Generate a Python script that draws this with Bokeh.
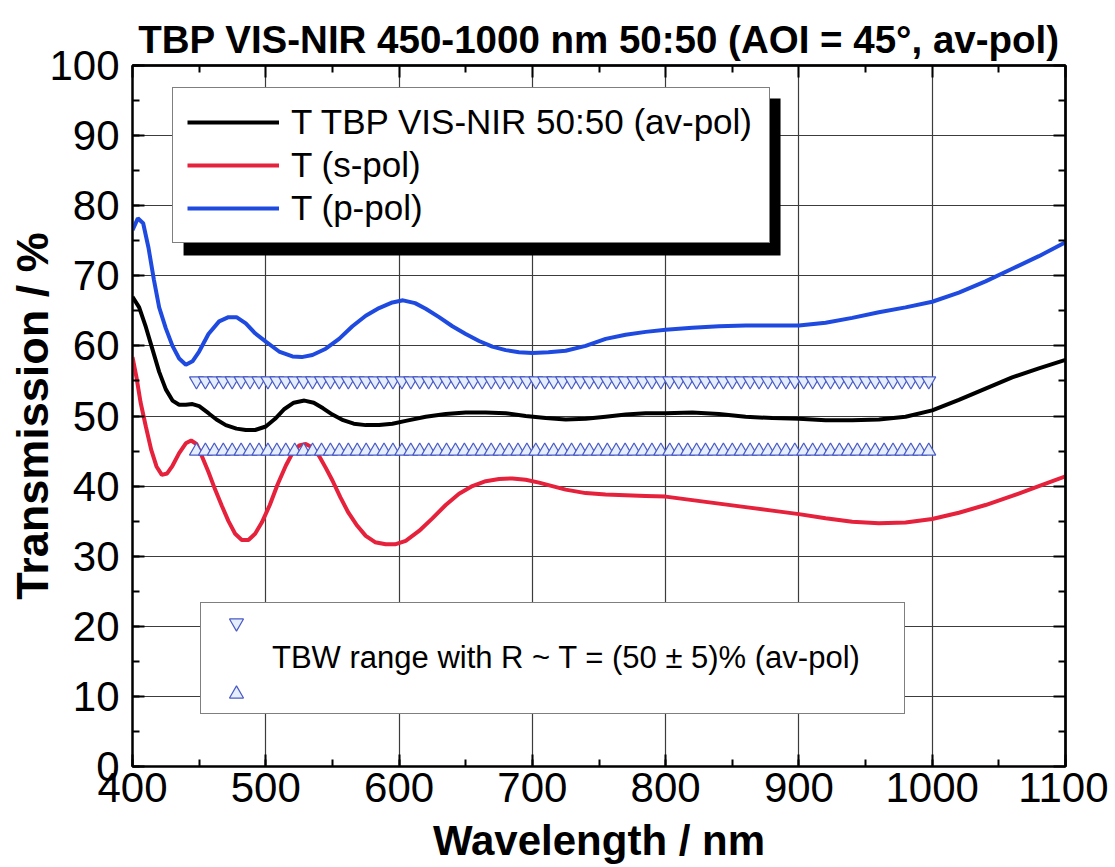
from bokeh.plotting import figure
from bokeh.models import (Range1d, LinearAxis, Legend, LegendItem, BoxAnnotation,
                          SingleIntervalTicker, FixedTicker)
from bokeh.embed import file_html
from bokeh.resources import INLINE
import numpy as np

# ---------------- data ----------------
wl_av = [400, 405, 410, 415, 420, 425, 430, 435, 440, 445, 450, 457, 463, 470, 478, 485, 492,
         500, 507, 514, 521, 529, 536, 543, 550, 558, 566, 575, 585, 595, 605, 620, 635, 650,
         665, 680, 695, 710, 725, 740, 755, 770, 785, 800, 820, 840, 860, 880, 900, 920, 940,
         960, 980, 1000, 1020, 1040, 1060, 1080, 1100]
t_av = [67.0, 65.5, 62.7, 59.5, 56.3, 53.8, 52.2, 51.6, 51.6, 51.7, 51.4, 50.4, 49.5, 48.7,
        48.2, 48.0, 48.0, 48.5, 49.6, 51.0, 51.9, 52.2, 51.9, 51.1, 50.2, 49.4, 48.9, 48.7,
        48.7, 48.9, 49.3, 49.9, 50.3, 50.5, 50.5, 50.4, 50.0, 49.7, 49.5, 49.6, 49.9, 50.2,
        50.4, 50.4, 50.5, 50.3, 49.9, 49.7, 49.6, 49.4, 49.4, 49.5, 49.9, 50.8, 52.3, 53.9,
        55.5, 56.8, 58.0]

wl_s = [400, 403, 406, 410, 414, 418, 422, 426, 430, 435, 440, 444, 448, 452, 457, 462, 467,
        472, 477, 482, 487, 492, 497, 503, 509, 515, 520, 525, 530, 535, 540, 545, 550, 556,
        562, 568, 575, 582, 590, 597, 605, 615, 625, 635, 645, 655, 665, 675, 685, 695, 705,
        715, 725, 740, 755, 770, 785, 800, 820, 840, 860, 880, 900, 920, 940, 960, 980, 1000,
        1020, 1040, 1060, 1080, 1100]
t_s = [58.4, 55.5, 52.0, 48.5, 45.2, 42.8, 41.6, 41.8, 42.9, 44.7, 46.1, 46.5, 46.0, 44.3,
       42.0, 39.5, 37.2, 35.0, 33.2, 32.3, 32.3, 33.2, 34.8, 37.3, 40.3, 42.9, 44.7, 45.8,
       46.0, 45.5, 44.3, 42.6, 40.8, 38.4, 36.2, 34.5, 32.9, 32.0, 31.7, 31.7, 32.2, 33.6,
       35.4, 37.3, 38.9, 40.0, 40.7, 41.0, 41.1, 40.9, 40.5, 40.0, 39.5, 39.0, 38.8, 38.7,
       38.6, 38.5, 38.0, 37.5, 37.0, 36.5, 36.0, 35.4, 34.9, 34.7, 34.8, 35.3, 36.2, 37.3,
       38.6, 40.0, 41.4]

wl_p = [400, 404, 408, 412, 416, 420, 425, 430, 435, 440, 445, 450, 457, 465, 472, 478, 485,
        492, 500, 510, 520, 527, 535, 545, 555, 565, 575, 585, 595, 603, 612, 620, 630, 640,
        650, 660, 670, 680, 690, 700, 712, 725, 740, 755, 770, 785, 800, 820, 840, 860, 880,
        900, 920, 940, 960, 980, 1000, 1020, 1040, 1060, 1080, 1100]
t_p = [76.5, 78.2, 77.5, 74.0, 69.5, 65.5, 62.5, 60.0, 58.2, 57.3, 57.8, 59.2, 61.7, 63.5,
       64.1, 64.1, 63.2, 61.8, 60.6, 59.2, 58.5, 58.4, 58.7, 59.6, 61.0, 62.8, 64.3, 65.4,
       66.2, 66.5, 66.1, 65.3, 64.1, 62.8, 61.7, 60.7, 59.9, 59.4, 59.1, 59.0, 59.1, 59.3,
       60.0, 61.0, 61.6, 62.0, 62.3, 62.6, 62.8, 62.9, 62.9, 62.9, 63.3, 64.0, 64.8, 65.5,
       66.3, 67.6, 69.2, 71.0, 72.8, 74.8]

# TBW range (R ~ T = 50 +/- 5 %) : band limits and marker spacing
tbw_start, tbw_end, tbw_step = 448, 1004, 6.7
tbw_low, tbw_high = 45, 55
tbw_wl = np.arange(tbw_start, tbw_end + 0.01, tbw_step)

# tick positions (used for the mirrored, label-free top/right tick marks)
x_major = [400, 500, 600, 700, 800, 900, 1000, 1100]
x_minor = [450, 550, 650, 750, 850, 950, 1050]
y_major = [0, 10, 20, 30, 40, 50, 60, 70, 80, 90, 100]
y_minor = [5, 15, 25, 35, 45, 55, 65, 75, 85, 95]

TITLE = "TBP VIS-NIR 450-1000 nm 50:50 (AOI = 45°, av-pol)"
FONT = "Liberation Sans"
BLACK = "#000000"
RED = "#e5213b"
BLUE = "#1f4ae0"
MK_LINE = "#4a5ac4"
MK_FILL = "#e4eeff"

# ---------------- figure ----------------
p = figure(width=1108, height=867, x_range=Range1d(400, 1100), y_range=Range1d(0, 100),
           output_backend="svg", toolbar_location=None,
           min_border_left=132, min_border_right=43, min_border_top=65, min_border_bottom=101)

p.title.text = TITLE
p.title.text_font = FONT
p.title.text_font_style = "bold"
p.title.text_font_size = "38.5px"
p.title.text_color = "black"
p.title.align = "center"
p.title.standoff = 10

p.outline_line_color = "black"
p.outline_line_width = 2
p.background_fill_color = "white"
p.border_fill_color = "white"

xt = SingleIntervalTicker(interval=100, num_minor_ticks=2)
yt = SingleIntervalTicker(interval=10, num_minor_ticks=2)
p.xaxis.ticker = xt
p.yaxis.ticker = yt
p.xgrid.ticker = xt
p.ygrid.ticker = yt
p.grid.grid_line_color = "#3c3c3c"
p.grid.grid_line_width = 1.2

def style_axis(ax):
    ax.axis_line_color = "black"
    ax.axis_line_width = 2
    ax.major_tick_in = 12
    ax.major_tick_out = 0
    ax.minor_tick_in = 7
    ax.minor_tick_out = 0
    ax.major_tick_line_width = 2
    ax.minor_tick_line_width = 2
    ax.major_tick_line_color = "black"
    ax.minor_tick_line_color = "black"
    ax.major_label_text_font = FONT
    ax.major_label_text_font_size = "42px"
    ax.major_label_text_color = "black"
    ax.axis_label_text_font = FONT
    ax.axis_label_text_font_style = "bold"
    ax.axis_label_text_color = "black"

for ax in p.xaxis:
    style_axis(ax)
    ax.axis_label = "Wavelength / nm"
    ax.axis_label_text_font_size = "42px"
    ax.major_label_standoff = 6
    ax.axis_label_standoff = 12
for ax in p.yaxis:
    style_axis(ax)
    ax.axis_label = "Transmission / %"
    ax.axis_label_text_font_size = "45px"
    ax.major_label_standoff = 13
    ax.axis_label_standoff = -12

def mirror_axis(positions, tick_len):
    # label-free axis: all positions given as "minor" ticks so no tick labels exist
    ax = LinearAxis(ticker=FixedTicker(ticks=[], minor_ticks=positions))
    ax.axis_line_color = "black"
    ax.axis_line_width = 2
    ax.minor_tick_in = tick_len
    ax.minor_tick_out = 0
    ax.minor_tick_line_width = 2
    ax.minor_tick_line_color = "black"
    ax.major_tick_in = 0
    ax.major_tick_out = 0
    ax.major_tick_line_color = None
    return ax

p.add_layout(mirror_axis(x_major, 12), "above")
p.add_layout(mirror_axis(x_minor, 7), "above")
p.add_layout(mirror_axis(y_major, 12), "right")
p.add_layout(mirror_axis(y_minor, 7), "right")

# ---------------- data glyphs ----------------
r_av = p.line(wl_av, t_av, line_color=BLACK, line_width=4)
r_s = p.line(wl_s, t_s, line_color=RED, line_width=4)
r_p = p.line(wl_p, t_p, line_color=BLUE, line_width=4)

r_dn = p.scatter(tbw_wl, [tbw_high] * len(tbw_wl), marker="inverted_triangle", size=14,
                 line_color=MK_LINE, fill_color=MK_FILL, line_width=1.2)
r_up = p.scatter(tbw_wl, [tbw_low] * len(tbw_wl), marker="triangle", size=14,
                 line_color=MK_LINE, fill_color=MK_FILL, line_width=1.2)
# invisible renderer used only to carry the text row of the second legend
r_txt = p.scatter(x=[], y=[], marker="square", size=1, line_alpha=0, fill_alpha=0)

# ---------------- legend 1 with drop shadow ----------------
shadow = BoxAnnotation(left=438.3, right=886.2, top=95.3, bottom=72.9,
                       fill_color="black", fill_alpha=1, line_color=None)
p.add_layout(shadow)

leg1 = Legend(items=[LegendItem(label="T TBP VIS-NIR 50:50 (av-pol)", renderers=[r_av]),
                     LegendItem(label="T (s-pol)", renderers=[r_s]),
                     LegendItem(label="T (p-pol)", renderers=[r_p])],
              location=(40, 523), margin=0, padding=14, spacing=3,
              glyph_width=92, glyph_height=30, label_height=30, label_standoff=12,
              label_width=464,
              label_text_font=FONT, label_text_font_size="35px", label_text_color="black",
              border_line_color="black", border_line_width=1.5,
              background_fill_color="white", background_fill_alpha=1)
p.add_layout(leg1, "center")

# ---------------- legend 2 ----------------
leg2 = Legend(items=[LegendItem(label=" ", renderers=[r_dn]),
                     LegendItem(label="TBW range with R ~ T = (50 ± 5)% (av-pol)",
                                renderers=[r_txt]),
                     LegendItem(label=" ", renderers=[r_up])],
              location=(68, 52), margin=0, padding=2, spacing=0,
              glyph_width=66, glyph_height=35, label_height=35, label_width=630,
              label_standoff=3, label_text_font=FONT, label_text_font_size="31px",
              label_text_color="black",
              border_line_color="black", border_line_width=1.5,
              background_fill_color="white", background_fill_alpha=1)
p.add_layout(leg2, "center")

open("out.html", "w").write(file_html(p, INLINE))
